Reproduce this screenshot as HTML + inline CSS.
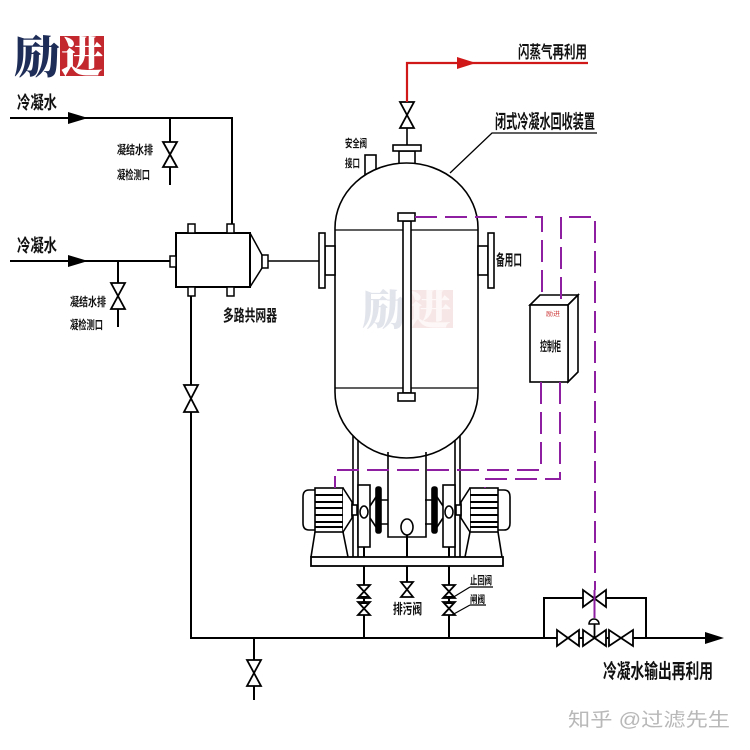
<!DOCTYPE html>
<html><head><meta charset="utf-8"><style>
html,body{margin:0;padding:0;background:#fff;}
svg{display:block;}
text{font-family:"Liberation Sans","Noto Sans CJK SC",sans-serif;font-weight:700;fill:#111;}
</style></head><body>
<svg width="750" height="750" viewBox="0 0 750 750" xmlns="http://www.w3.org/2000/svg">
<rect width="750" height="750" fill="#fff"/>

<!-- Logo -->
<text x="14" y="73" font-size="45" style="font-family:'Noto Serif CJK SC',serif;font-weight:900;fill:#1e2d57" textLength="46" lengthAdjust="spacingAndGlyphs">励</text>
<rect x="60" y="36" width="44" height="40" fill="#c3282f"/>
<text x="61" y="72" font-size="42" style="font-family:'Noto Serif CJK SC',serif;font-weight:900;fill:#fff" textLength="42" lengthAdjust="spacingAndGlyphs">进</text>

<g stroke="#000" stroke-width="2" fill="none">
  <path d="M10,118 H232 V224"/>
  <path d="M170,118 V185"/>
  <path d="M10,261 H170"/>
  <path d="M118,261 V327"/>
  <rect x="176" y="233" width="74" height="54" fill="#fff"/>
  <rect x="170" y="256" width="6" height="11" fill="#fff" stroke-width="1.5"/>
  <rect x="188" y="224" width="7" height="9" fill="#fff" stroke-width="1.5"/>
  <rect x="227" y="224" width="7" height="9" fill="#fff" stroke-width="1.5"/>
  <rect x="188" y="287" width="7" height="9" fill="#fff" stroke-width="1.5"/>
  <rect x="227" y="287" width="7" height="9" fill="#fff" stroke-width="1.5"/>
  <path d="M250,233 L262,255 V268 L250,287" stroke-width="1.5"/>
  <rect x="262" y="255" width="6" height="13" fill="#fff" stroke-width="1.5"/>
  <path d="M268,261 H319" stroke-width="1.5"/>
  <path d="M191,296 V638 H705"/>
  <path d="M254,638 V700"/>
  <path d="M544,638 V598 H646 V638"/>
  <path d="M364,512 V638"/>
  <path d="M449,512 V638"/>
  <path d="M407,535 V597"/>
</g>

<polygon points="68,112 88,118 68,124" fill="#000"/>
<polygon points="68,255 88,261 68,267" fill="#000"/>
<polygon points="705,632 724,638 705,644" fill="#000"/>

<g stroke="#000" stroke-width="1.8" fill="#fff">
  <polygon points="163,142 177,142 170,154.5 163,167 177,167 170,154.5"/>
  <polygon points="111,283 125,283 118,296 111,309 125,309 118,296"/>
  <polygon points="184,385 198,385 191,398.5 184,412 198,412 191,398.5"/>
  <polygon points="247,660 261,660 254,673 247,686 261,686 254,673"/>
  <polygon points="400,102 414,102 407,115 400,128 414,128 407,115"/>
  <polygon points="401,582 413,582 407,589.5 401,597 413,597 407,589.5"/>
  <polygon points="358,585 370,585 364,591.5 358,598 370,598 364,591.5"/>
  <polygon points="358,602 370,602 364,608.5 358,615 370,615 364,608.5"/>
  <polygon points="443,585 455,585 449,591.5 443,598 455,598 449,591.5"/>
  <polygon points="443,602 455,602 449,608.5 443,615 455,615 449,608.5"/>
</g>
<polygon points="359,596 369,596 364,600 359,604 369,604 364,600" fill="#000"/>
<polygon points="444,596 454,596 449,600 444,604 454,604 449,600" fill="#000"/>

<g stroke="#000" stroke-width="1.8" fill="#fff">
  <polygon points="583,590 583,607 594.5,598.5 606,590 606,607 594.5,598.5"/>
  <polygon points="557,630 557,646 568,638 579,630 579,646 568,638"/>
  <polygon points="583,630 583,646 594.5,638 606,630 606,646 594.5,638"/>
  <polygon points="609,630 609,646 621,638 633,630 633,646 621,638"/>
</g>
<path d="M594.5,638 V624" stroke="#000" stroke-width="1.8"/>
<path d="M589,624 A5,5 0 0 1 599,624 Z" fill="#fff" stroke="#000" stroke-width="1.5"/>

<path d="M407,102 V63 H588" stroke="#d01818" stroke-width="2.2" fill="none"/>
<polygon points="457,57 476,63 457,69" fill="#d01818"/>

<g stroke="#000" stroke-width="1.6" fill="#fff">
  <path d="M407,128 V145" fill="none"/>
  <rect x="365" y="155" width="11" height="22"/>
  <rect x="399" y="151" width="16" height="14"/>
  <rect x="393" y="145" width="28" height="6"/>
</g>
<path d="M450,173 L492,133 H597" stroke="#000" stroke-width="1.3" fill="none"/>

<path d="M335,228 A71.5,65 0 0 1 478,228 L478,392 A71.5,66 0 0 1 335,392 Z" fill="#fff" stroke="#000" stroke-width="1.6"/>
<path d="M335,230 H478 M335,388 H478" stroke="#000" stroke-width="1.3"/>

<text x="362" y="325" font-size="42" style="font-family:'Noto Serif CJK SC',serif;font-weight:900;fill:#e2e4ec" textLength="44" lengthAdjust="spacingAndGlyphs">励</text>
<rect x="406" y="290" width="47" height="38" fill="#f7e6e6"/>
<text x="407" y="324" font-size="40" style="font-family:'Noto Serif CJK SC',serif;font-weight:900;fill:#fdf7f7" textLength="44" lengthAdjust="spacingAndGlyphs">进</text>

<g stroke="#000" stroke-width="1.6" fill="#fff">
  <rect x="325" y="246" width="10" height="29"/>
  <rect x="319" y="233" width="6" height="55"/>
  <rect x="478" y="246" width="10" height="29"/>
  <rect x="488" y="233" width="6" height="55"/>
  <rect x="403" y="221" width="8" height="172"/>
  <rect x="398" y="213" width="17" height="8"/>
  <rect x="398" y="393" width="17" height="8"/>
</g>

<g stroke="#000" stroke-width="1.6" fill="none">
  <path d="M353,436 V557 M358,440 V557 M455,440 V557 M460,436 V557"/>
  <path d="M388,452 V537 H426 V452"/>
</g>
<ellipse cx="407" cy="527" rx="6" ry="8" fill="#fff" stroke="#000" stroke-width="1.6"/>

<g id="pm" stroke="#000" stroke-width="1.6" fill="#fff">
  <path d="M315,490 H309 Q303,490 303,497 V523 Q303,530 309,530 H315"/>
  <rect x="315" y="488" width="28" height="44"/>
  <path d="M315,495 H343 M315,502 H343 M315,508 H343 M315,515 H343 M315,522 H343 M315,527 H343" stroke-width="2"/>
  <path d="M343,488 L352,502 V518 L343,532"/>
  <rect x="352" y="505" width="5" height="10"/>
  <path d="M315,532 L311,557 M343,532 L348,557" fill="none"/>
  <rect x="358" y="485" width="12" height="62"/>
  <path d="M378,494 L370,506 M378,530 L370,518" fill="none"/>
  <rect x="376" y="487" width="5" height="46" rx="2" fill="#000"/>
  <path d="M381,500 H388 M381,524 H388" fill="none"/>
  <ellipse cx="364" cy="512" rx="4" ry="6"/>
</g>
<use href="#pm" transform="translate(813,0) scale(-1,1)"/>

<rect x="311" y="557" width="192" height="9" fill="#fff" stroke="#000" stroke-width="1.8"/>
<path d="M364,566 V585 M449,566 V585 M407,566 V582" stroke="#000" stroke-width="1.8"/>

<g stroke="#000" stroke-width="1.6" fill="#fff">
  <polygon points="530,305 540,295 578,295 568,305"/>
  <polygon points="568,305 578,295 578,372 568,382"/>
  <rect x="530" y="305" width="38" height="77"/>
</g>
<text x="546" y="316" font-size="6" style="fill:#c33;font-weight:400" textLength="14" lengthAdjust="spacingAndGlyphs">励进</text>

<g stroke="#8e1fa0" stroke-width="2" fill="none" stroke-dasharray="22 8">
  <path d="M415,217 H542 V299"/>
  <path d="M561,299 V217 H595 V590"/>
  <path d="M541,382 V470 H335 V488"/>
  <path d="M560,382 V479 H485 V488"/>
</g>
<path d="M594.5,590 V618" stroke="#8e1fa0" stroke-width="2"/>

<text x="17" y="109" font-size="18" textLength="40" lengthAdjust="spacingAndGlyphs">冷凝水</text>
<text x="117" y="154" font-size="12" textLength="36" lengthAdjust="spacingAndGlyphs">凝结水排</text>
<text x="117" y="179" font-size="12" textLength="33" lengthAdjust="spacingAndGlyphs">凝检测口</text>
<text x="17" y="252" font-size="18" textLength="40" lengthAdjust="spacingAndGlyphs">冷凝水</text>
<text x="70" y="306" font-size="12" textLength="36" lengthAdjust="spacingAndGlyphs">凝结水排</text>
<text x="70" y="329" font-size="12" textLength="33" lengthAdjust="spacingAndGlyphs">凝检测口</text>
<text x="223" y="321" font-size="16" textLength="54" lengthAdjust="spacingAndGlyphs">多路共网器</text>
<text x="518" y="58" font-size="17" textLength="69" lengthAdjust="spacingAndGlyphs">闪蒸气再利用</text>
<text x="495" y="128" font-size="19" textLength="100" lengthAdjust="spacingAndGlyphs">闭式冷凝水回收装置</text>
<text x="345" y="147" font-size="11" textLength="22" lengthAdjust="spacingAndGlyphs">安全阀</text>
<text x="345" y="167" font-size="11" textLength="15" lengthAdjust="spacingAndGlyphs">接口</text>
<text x="496" y="265" font-size="15" textLength="26" lengthAdjust="spacingAndGlyphs">备用口</text>
<text x="540" y="351" font-size="13" textLength="21" lengthAdjust="spacingAndGlyphs">控制柜</text>
<text x="393" y="614" font-size="14" textLength="29" lengthAdjust="spacingAndGlyphs">排污阀</text>
<text x="470" y="584" font-size="11" textLength="22" lengthAdjust="spacingAndGlyphs">止回阀</text>
<text x="470" y="603" font-size="10" textLength="15" lengthAdjust="spacingAndGlyphs">闸阀</text>
<path d="M470,587 H493 M470,587 L452,598 M470,605 H486 M470,605 L452,615" stroke="#000" stroke-width="1.2" fill="none"/>
<text x="603" y="678" font-size="20" textLength="110" lengthAdjust="spacingAndGlyphs">冷凝水输出再利用</text>
<text x="568" y="726" font-size="19" style="fill:#b8b8b8;font-weight:400" textLength="162" lengthAdjust="spacingAndGlyphs">知乎 @过滤先生</text>
</svg>
</body></html>
